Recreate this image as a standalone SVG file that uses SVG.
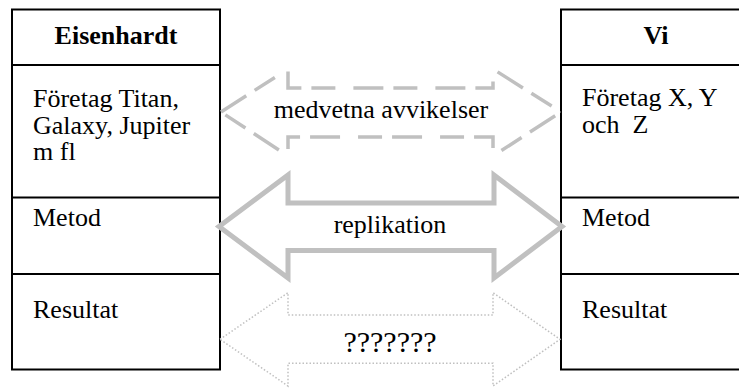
<svg xmlns="http://www.w3.org/2000/svg" width="739" height="390" viewBox="0 0 739 390">
  <style>
    .box { fill: none; stroke: #000; stroke-width: 2; }
    .div { stroke: #000; stroke-width: 2; }
    .t { font-family: "Liberation Serif", "Times New Roman", serif; font-size: 26px; fill: #000; }
    .b { font-weight: bold; }
    .q { font-size: 30px; }
    .arr { fill: #fff; stroke: #c0c0c0; stroke-linejoin: miter; stroke-miterlimit: 10; }
    .dash { stroke-width: 3.5; stroke-dasharray: 30 10 24 18; }
    .solid { stroke-width: 5; }
    .dot { stroke-width: 1.5; stroke-dasharray: 1.5 2; }
  </style>
  <rect width="739" height="390" fill="#fff"/>
  <g id="eisenhardt">
    <rect class="box" x="12" y="9.5" width="208" height="360"/>
    <line class="div" x1="12" y1="65" x2="220" y2="65"/>
    <line class="div" x1="12" y1="197.5" x2="220" y2="197.5"/>
    <line class="div" x1="12" y1="274" x2="220" y2="274"/>
    <text class="t b" x="116" y="44" text-anchor="middle">Eisenhardt</text>
    <text class="t" x="33" y="107">Företag Titan,</text>
    <text class="t" x="33" y="133.5">Galaxy, Jupiter</text>
    <text class="t" x="33" y="160">m fl</text>
    <text class="t" x="33" y="226">Metod</text>
    <text class="t" x="33" y="318">Resultat</text>
  </g>
  <g id="vi">
    <rect class="box" x="561" y="9.5" width="200" height="360"/>
    <line class="div" x1="561" y1="65" x2="761" y2="65"/>
    <line class="div" x1="561" y1="197.5" x2="761" y2="197.5"/>
    <line class="div" x1="561" y1="274" x2="761" y2="274"/>
    <text class="t b" x="656" y="44" text-anchor="middle">Vi</text>
    <text class="t" x="582" y="106">Företag X, Y</text>
    <text class="t" x="582" y="133" xml:space="preserve">och  Z</text>
    <text class="t" x="582" y="226">Metod</text>
    <text class="t" x="582" y="318">Resultat</text>
  </g>
  <g id="connectors">
    <g id="avvikelser">
      <path class="arr dash" d="M221,112 L288,69 L288,88 L493,88 L493,69 L561,112 L493,156 L493,137 L288,137 L288,156 Z"/>
      <text class="t" x="381" y="118" text-anchor="middle">medvetna avvikelser</text>
    </g>
    <g id="replikation">
      <path class="arr solid" d="M219,226.5 L288,175 L288,203 L494,203 L494,175 L562,226.5 L494,278 L494,250.5 L288,250.5 L288,278 Z"/>
      <text class="t" x="390" y="233" text-anchor="middle">replikation</text>
    </g>
    <g id="okant">
      <path class="arr dot" d="M220,339.3 L288,292.7 L288,315 L493,315 L493,292.7 L560,339.3 L493,386 L493,363.3 L288,363.3 L288,386 Z"/>
      <text class="t q" x="390" y="352" text-anchor="middle">???????</text>
    </g>
  </g>
</svg>
